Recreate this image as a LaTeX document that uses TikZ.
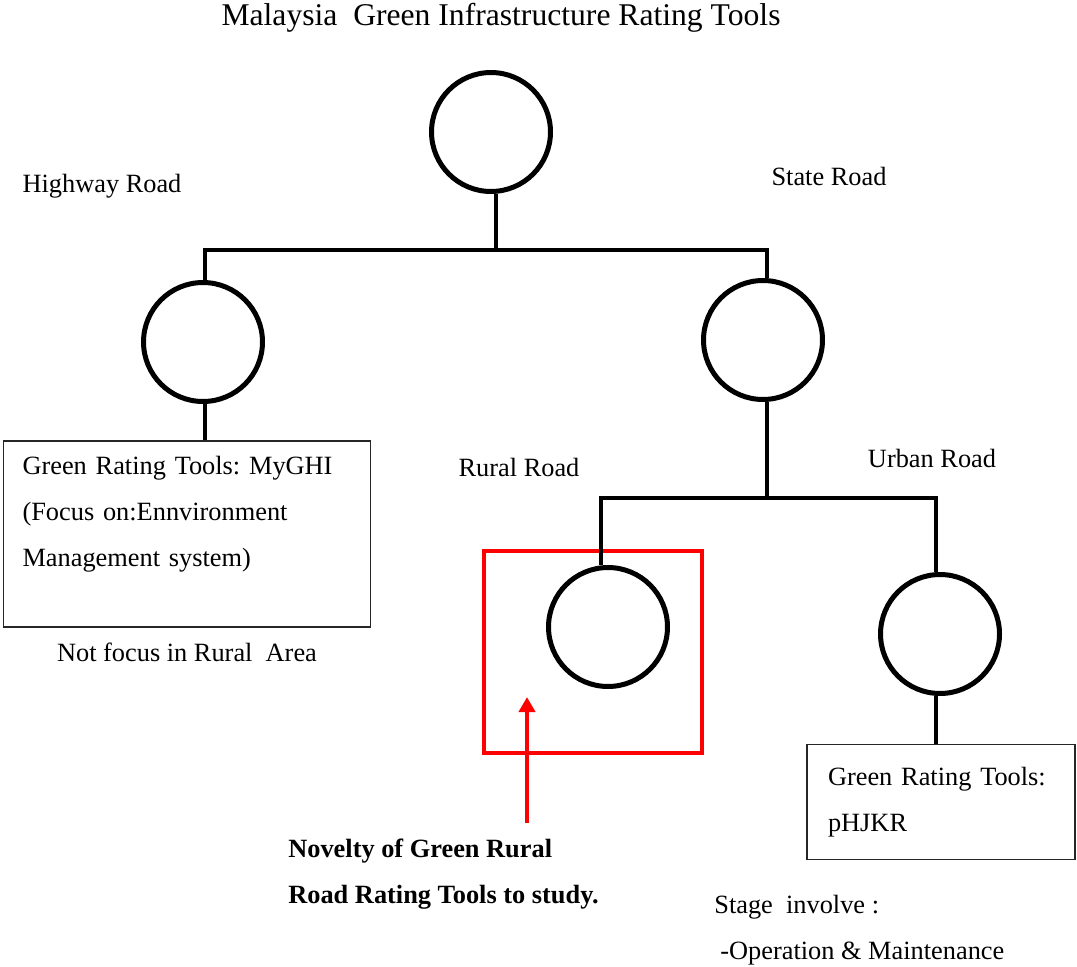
\documentclass[tikz,border=0pt]{standalone}
\usepackage{fontspec}
\setmainfont{Liberation Serif}
\usepackage{tikz}
\usetikzlibrary{calc, positioning, arrows.meta}
\frenchspacing

\begin{document}
\begin{tikzpicture}[
  x=0.02cm, y=-0.02cm,
  ring/.style={draw, circle, line width=0.1cm, minimum size=2.38cm, inner sep=0pt},
  toolbox/.style={draw=black!85, line width=0.7pt, align=left, inner ysep=0pt,
                  font=\fontsize{15}{26.2}\selectfont},
  tag/.style={inner sep=0pt, font=\fontsize{15}{26.2}\selectfont},
  link/.style={line width=0.08cm},
  focus/.style={draw=red, line width=0.08cm, minimum width=4.36cm, minimum height=4.04cm},
  pointer/.style={red, line width=0.08cm, -{Triangle[width=0.32cm, length=0.3cm]}},
]
\useasboundingbox (0,0) rectangle (1077,966);

\node[tag, font=\fontsize{18}{22}\selectfont] (title) at (501,18) {Malaysia~ Green Infrastructure Rating Tools};

\node[ring] (top) at (491,132) {};
\node[ring] (hwy) at (203,342) {};
\node[ring] (state) at (763,340) {};
\node[ring] (rural) at (608,627) {};
\node[ring] (urban) at (940,634) {};

\node[tag] (hwylabel) at (102,186) {Highway Road};
\node[tag] (statelabel) at (829,176) {State Road};
\node[tag] (rurallabel) at (519,467) {Rural Road};
\node[tag] (urbanlabel) at (932,458) {Urban Road};

\node[toolbox, minimum width=7.34cm, minimum height=3.72cm, text width=6.58cm,
      inner xsep=0.38cm] (myghi) at (187,534) {
  Green Rating Tools: MyGHI\\(Focus on:Ennvironment\\Management system)\\\mbox{}
};
\node[tag, below=0.3cm of myghi] (notfocus) {Not focus in Rural~ Area};

\node[toolbox, minimum width=5.36cm, minimum height=2.3cm, text width=4.52cm,
      inner xsep=0.42cm] (phjkr) at (941,802) {
  Green Rating Tools:\\pHJKR
};
\node[tag, align=left, anchor=west] (stage) at (714,930) {
  Stage~~involve :\\\hspace*{0.12cm}-Operation \& Maintenance
};

\node[focus] (novelframe) at (593,652) {};
\node[tag, align=left, anchor=west, font=\fontsize{15}{26.2}\selectfont\bfseries]
  (novelty) at (288,874) {Novelty of Green Rural\\Road Rating Tools to study.};

\coordinate (hub) at (496,250);
\coordinate (hwyjoin) at (205,250);
\coordinate (statejoin) at (767,250);
\coordinate (split) at (767,498);
\coordinate (ruraljoin) at (601,498);
\coordinate (urbanjoin) at (936,498);
\coordinate (tip) at (527,697);

\draw[link] (top.south -| hub) -- (hub);
\draw[link] (hwy.north -| hwyjoin) -- (hwyjoin) -- (statejoin) -- (state.north -| statejoin);
\draw[link] (hwy.south -| hwyjoin) -- (myghi.north -| hwyjoin);
\draw[link] (state.south -| split) -- (split);
\draw[link] (rural.north -| ruraljoin) -- (ruraljoin) -- (urbanjoin) -- (urban.north -| urbanjoin);
\draw[link] (urban.south -| urbanjoin) -- (phjkr.north -| urbanjoin);

\draw[pointer, shorten <=0.3cm] (novelty.north -| tip) -- (tip);
\end{tikzpicture}
\end{document}
